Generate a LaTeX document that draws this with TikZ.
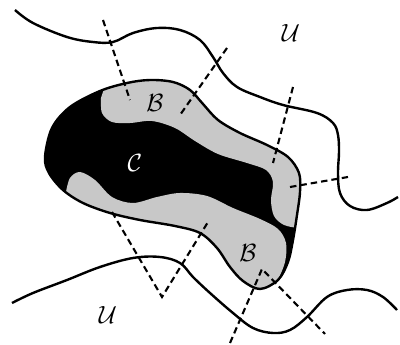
\documentclass[tikz,border=0pt]{standalone}
\usepackage{tikz}
\definecolor{bandgray}{HTML}{C8C8C8}
\definecolor{ink}{HTML}{000000}
\tikzset{
  edge/.style={draw=ink,line width=2.4pt,line join=round},
  cutline/.style={draw=ink,line width=2.1pt,dash pattern=on 6.5pt off 4pt},
  region/.style={font=\fontsize{26}{30}\selectfont,inner sep=0pt}
}

\begin{document}
\begin{tikzpicture}[x=1pt,y=-1pt]
\useasboundingbox (0,0) rectangle (400,345);
% outline of the set, kept for clip and stroke
\path[save path=\blobline] plot[smooth cycle,tension=0.55] coordinates {
  (45,157) (52,128) (70,107) (100,91) (127,83) (150,80) (173,82) (190,90)
  (203,104) (218,120) (240,133) (267,145) (288,157) (299,173) (300,192)
  (297,215) (293,240) (288,262) (278,280) (260,289) (243,281) (230,267)
  (217,248) (200,233) (175,226) (140,220) (110,213) (83,203) (63,190) (49,173)};
% core (black) with the two boundary bands (grey)
\begin{scope}
\clip[use path=\blobline];
\fill[ink] (0,0) rectangle (400,345);
\fill[bandgray] (110,70) -- plot[smooth,tension=0.55] coordinates {
  (101,98) (102,113) (112,122) (130,123) (152,121) (175,128) (195,141)
  (218,154) (247,163) (266,170) (273,182) (271,200) (274,216) (284,225) (298,228)}
  -- (330,232) -- (330,60) -- cycle;
\fill[bandgray] (50,215) -- plot[smooth,tension=0.55] coordinates {
  (66,192) (70,178) (80,172) (95,180) (112,197) (133,203) (157,197) (180,193)
  (207,196) (233,208) (260,219) (278,229) (286,243) (285,262) (277,282) (268,300)}
  -- (50,300) -- cycle;
\end{scope}
\draw[edge,use path=\blobline];
% the two curves of U
\draw[edge] plot[smooth,tension=0.6] coordinates {
  (15,10) (33,23) (67,37) (93,42) (113,42) (133,33) (157,28) (180,30) (200,40)
  (213,57) (223,73) (237,87) (260,97) (283,105) (317,113) (333,123) (338,135)
  (339,152) (338,173) (340,193) (350,206) (367,210) (387,203) (398,197)};
\draw[edge] plot[smooth,tension=0.6] coordinates {
  (12,303) (33,293) (67,280) (100,267) (133,258) (160,257) (180,263) (193,277)
  (210,293) (233,313) (253,328) (273,333) (290,330) (307,317) (327,297)
  (347,290) (367,290) (383,297) (397,310)};
% dashed cuts
\coordinate (d1a) at (103,20);  \coordinate (d1b) at (130,100);
\coordinate (d2a) at (227,48);  \coordinate (d2b) at (180,115);
\coordinate (d3a) at (293,87);  \coordinate (d3b) at (273,163);
\coordinate (d4a) at (290,187); \coordinate (d4b) at (348,177);
\coordinate (v1a) at (112,212); \coordinate (v1m) at (162,297); \coordinate (v1b) at (208,222);
\coordinate (v2a) at (230,343); \coordinate (v2m) at (262,269); \coordinate (v2b) at (325,334);
\draw[cutline] (d1a) -- (d1b);
\draw[cutline] (d2a) -- (d2b);
\draw[cutline] (d3a) -- (d3b);
\draw[cutline] (d4a) -- (d4b);
\draw[cutline] (v1a) -- (v1m) -- (v1b);
\draw[cutline] (v2a) -- (v2m) -- (v2b);
% labels
\node[region] (uTop) at (291,33) {$\mathcal{U}$};
\node[region] (uBottom) at (108,315) {$\mathcal{U}$};
\node[region] (bTop) at (155,103) {$\mathcal{B}$};
\node[region] (bBottom) at (248,253) {$\mathcal{B}$};
\node[region,text=white] (cCore) at (135,163) {$\mathcal{C}$};
\end{tikzpicture}
\end{document}
